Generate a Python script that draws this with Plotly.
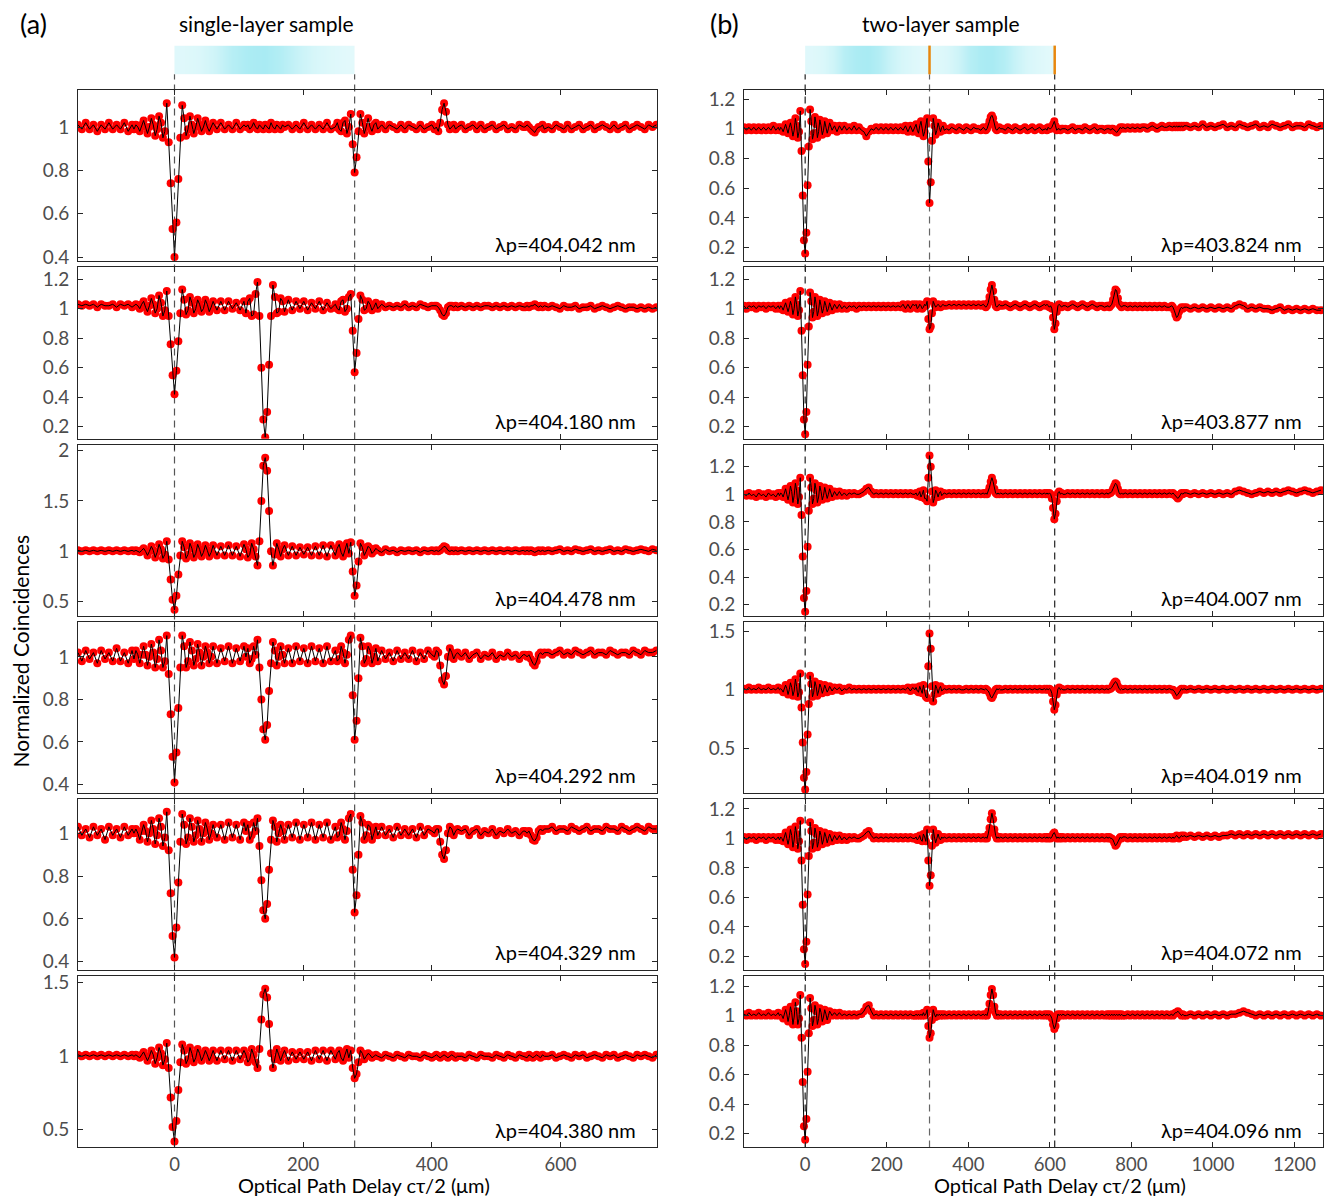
import sys
import numpy as np
import plotly.graph_objects as go

# ---------------- data ----------------
# sampling positions (optical path delay, um)
x_left = [-150,-144,-138,-132,-126,-120,-114,-108,-102,-96,-90,-84,-78,-72,-66,
          -63,-60,-57,-54,-51,-48,-45,-42,-39,-36,-33,-30,-27,-24,-21,-18,-15,-12,-9,-6,-3,0,3,6,9,12,15,18,21,24,27,30,33,36,39,42,45,48,51,54,57,60,
          66,72,78,84,90,96,102,108,
          111,114,117,120,123,126,129,132,135,138,141,144,147,150,153,156,159,162,165,168,171,
          177,183,189,195,201,207,213,219,225,231,237,243,
          250,253,256,259,262,265,268,271,274,277,280,283,286,289,292,295,298,301,304,307,310,313,
          316,322,328,334,340,346,352,358,364,370,376,382,388,394,400,
          404,407,410,413,416,419,422,425,428,431,434,437,440,
          446,452,458,464,470,476,482,488,494,500,506,512,518,524,530,536,542,
          545,548,551,554,557,560,563,566,569,572,575,
          581,587,593,599,605,611,617,623,629,635,641,647,653,659,665,671,677,683,689,695,701,707,713,719,725,731,737,743,749]

x_right = [-150,-144,-138,-132,-126,-120,-114,-108,-102,-96,-90,-84,-78,-72,-66,
           -63,-60,-57,-54,-51,-48,-45,-42,-39,-36,-33,-30,-27,-24,-21,-18,-15,-12,-9,-6,-3,0,3,6,9,12,15,18,21,24,27,30,33,36,39,42,45,48,51,54,57,60,
           66,72,78,84,90,96,102,108,114,120,126,132,138,144,150,156,162,168,174,180,186,192,198,204,210,216,222,228,234,240,246,252,258,264,
           269,272,275,278,281,284,287,290,293,296,299,302,305,308,311,314,317,320,323,326,329,332,335,338,341,
           347,353,359,365,371,377,383,389,395,401,407,413,419,425,431,437,
           440,443,446,449,452,455,458,461,464,467,470,473,476,479,
           485,491,497,503,509,515,521,527,533,539,545,551,557,563,569,575,581,587,
           590,593,596,599,602,605,608,611,614,617,620,623,626,629,632,
           638,644,650,656,662,668,674,680,686,692,698,704,710,716,722,728,734,740,
           743,746,749,752,755,758,761,764,767,770,773,776,779,
           785,791,797,803,809,815,821,827,833,839,845,851,857,863,869,875,881,887,893,899,
           902,905,908,911,914,917,920,923,926,929,
           935,945,955,965,975,985,995,1005,1015,1025,1035,1045,1055,1065,1075,1085,1095,1105,1115,1125,1135,1145,1155,1165,1175,1185,1195,1205,1215,1225,1235,1245,1255,1265]

# (a) single-layer sample, normalized coincidences
y_a1 = [1.01,0.99,1.02,0.99,1.01,0.98,1.01,0.99,1.02,0.99,1.01,0.99,1.02,0.98,1.01,
        0.99,1.01,1.00,0.98,1.01,1.03,1.00,0.97,1.00,1.04,1.01,0.96,0.99,1.05,1.02,0.95,0.98,1.11,0.93,0.74,0.53,0.40,0.56,0.76,0.95,1.10,1.04,0.96,0.99,1.05,1.01,0.97,1.00,1.04,1.01,0.98,1.00,1.03,1.00,0.98,1.00,1.02,
        0.99,1.02,0.99,1.01,0.99,1.02,0.99,1.01,
        1.00,1.01,0.99,1.00,1.02,1.00,0.99,1.01,1.00,0.99,1.01,1.00,0.99,1.02,1.00,0.99,1.01,1.00,0.99,1.01,1.00,
        1.01,0.99,1.01,0.99,1.02,0.99,1.01,0.99,1.01,0.99,1.02,0.99,
        1.00,1.02,0.99,0.98,1.02,1.03,0.97,1.00,1.06,0.92,0.79,0.86,0.98,1.06,1.02,0.97,1.00,1.04,1.00,0.98,1.01,1.02,
        0.99,1.01,0.99,1.01,1.00,0.99,1.01,0.99,1.01,1.00,0.99,1.01,0.99,1.00,1.01,
        0.99,1.00,0.98,1.02,1.08,1.11,1.07,1.01,0.99,1.00,1.01,0.99,1.00,
        1.01,0.99,1.00,1.01,0.99,1.01,0.99,1.00,1.01,0.99,1.00,1.01,0.99,1.00,0.99,1.01,1.00,
        1.00,1.01,1.00,0.99,0.98,0.975,0.99,1.00,1.00,1.01,0.99,
        1.00,0.99,1.01,1.00,0.99,1.01,0.99,1.00,1.01,0.99,1.00,1.01,0.99,1.00,1.01,1.00,0.99,1.01,0.99,1.00,1.01,0.99,1.00,1.01,1.00,0.99,1.01,1.00,1.01]

y_a2 = [1.03,1.02,1.03,1.02,1.03,1.01,1.03,1.02,1.02,1.03,1.01,1.03,1.02,1.03,1.01,
        1.02,1.03,1.02,1.00,1.03,1.05,1.01,0.98,1.02,1.07,1.03,0.97,1.00,1.09,1.04,0.95,0.99,1.12,0.95,0.76,0.55,0.42,0.58,0.78,0.97,1.13,1.06,0.96,0.99,1.08,1.04,0.97,1.00,1.06,1.03,0.98,1.00,1.06,1.03,0.98,1.01,1.05,
        0.99,1.05,0.99,1.05,1.00,1.04,0.99,1.05,
        0.97,1.05,1.07,0.95,0.96,1.10,1.18,0.95,0.60,0.25,0.13,0.30,0.62,0.95,1.16,1.08,0.97,0.98,1.07,1.05,0.98,
        1.06,0.99,1.05,1.00,1.05,0.99,1.04,1.00,1.05,0.99,1.04,1.00,
        1.03,1.00,0.99,1.05,1.06,0.98,1.00,1.08,1.10,0.85,0.57,0.70,0.93,1.09,1.06,0.99,1.00,1.05,1.03,0.99,1.01,1.04,
        1.00,1.03,1.01,1.02,1.01,1.02,1.01,1.03,1.01,1.02,1.01,1.03,1.02,1.01,1.02,
        1.02,1.02,1.01,0.99,0.96,0.95,0.97,1.01,1.02,1.02,1.01,1.02,1.01,
        1.02,1.01,1.02,1.01,1.02,1.01,1.02,1.02,1.01,1.02,1.01,1.02,1.01,1.02,1.01,1.02,1.01,
        1.01,1.02,1.01,1.02,1.02,1.03,1.02,1.01,1.02,1.01,1.02,
        1.01,1.02,1.01,1.00,1.02,1.01,1.01,1.02,1.00,1.01,1.01,1.02,1.00,1.01,1.02,1.01,1.00,1.01,1.02,1.01,1.00,1.01,1.01,1.00,1.01,1.00,1.01,1.00,1.01]

y_a3 = [1.01,1.00,1.01,1.00,1.01,1.00,1.01,1.00,1.01,1.00,1.01,1.00,1.01,1.00,1.01,
        1.00,1.01,1.00,0.99,1.01,1.03,1.00,0.96,1.00,1.05,1.01,0.94,0.99,1.07,1.02,0.93,0.97,1.10,0.92,0.72,0.52,0.42,0.56,0.77,0.96,1.10,1.04,0.93,0.97,1.08,1.03,0.94,0.98,1.07,1.02,0.95,0.99,1.06,1.01,0.95,0.99,1.06,
        0.96,1.05,0.96,1.06,0.96,1.05,0.95,1.07,
        1.02,0.94,0.97,1.08,1.02,0.95,0.86,1.10,1.50,1.85,1.93,1.80,1.40,1.00,0.86,0.97,1.08,1.02,0.95,1.02,1.06,
        0.96,1.05,0.96,1.04,0.97,1.04,0.96,1.05,0.96,1.06,0.95,1.06,
        0.96,1.03,1.07,0.99,0.95,1.03,1.08,0.98,1.09,0.80,0.56,0.66,0.90,1.08,1.04,0.96,1.00,1.05,1.03,0.98,1.00,1.03,
        1.01,0.99,1.02,1.00,1.01,0.99,1.01,1.00,1.01,1.00,1.01,0.99,1.01,1.00,1.01,
        1.00,1.01,1.00,1.01,1.03,1.05,1.04,1.01,1.00,1.01,1.00,1.01,1.00,
        1.01,1.00,1.01,1.00,1.01,1.00,1.01,1.00,1.01,1.00,1.01,1.00,1.01,1.00,1.01,1.00,1.01,
        1.00,1.01,1.00,1.01,1.00,0.99,1.00,1.01,1.00,1.01,1.00,
        1.01,1.00,1.01,1.02,1.00,1.01,1.00,1.02,1.01,1.00,1.01,1.02,1.00,1.01,1.00,1.01,1.02,1.00,1.01,1.00,1.02,1.01,1.00,1.01,1.02,1.01,1.00,1.02,1.01]

y_a4 = [1.02,0.98,1.03,0.99,1.02,0.97,1.03,0.99,1.02,0.98,1.04,0.98,1.02,0.97,1.03,
        0.99,1.03,1.01,0.97,1.01,1.05,1.01,0.96,1.00,1.06,1.02,0.95,0.99,1.08,1.03,0.95,0.98,1.10,0.92,0.73,0.53,0.41,0.55,0.76,0.95,1.10,1.05,0.95,0.98,1.07,1.03,0.96,0.99,1.06,1.02,0.96,1.00,1.05,1.02,0.97,1.00,1.05,
        0.97,1.04,0.98,1.05,0.97,1.04,0.98,1.05,
        1.00,1.04,0.97,0.99,1.05,1.01,1.08,0.95,0.80,0.66,0.61,0.68,0.84,0.97,1.07,1.03,0.96,1.00,1.05,1.01,0.97,
        1.04,0.97,1.05,0.98,1.04,0.97,1.05,0.98,1.04,0.97,1.05,0.98,
        1.03,0.98,0.99,1.05,1.02,0.97,1.01,1.08,1.10,0.82,0.61,0.70,0.90,1.09,1.05,0.97,0.99,1.05,1.03,0.97,1.00,1.04,
        0.98,1.03,0.99,1.02,0.98,1.03,0.99,1.02,0.99,1.03,0.98,1.02,0.99,1.03,1.01,
        1.00,1.03,1.02,0.96,0.89,0.87,0.91,1.00,1.04,1.02,0.99,1.01,1.02,
        1.00,1.02,0.99,1.01,1.02,0.99,1.01,1.00,1.02,0.99,1.01,1.00,1.02,1.00,1.01,0.99,1.01,
        1.01,1.00,1.01,0.99,0.97,0.96,0.98,1.01,1.02,1.01,1.02,
        1.02,1.01,1.02,1.03,1.01,1.02,1.01,1.03,1.02,1.01,1.02,1.03,1.01,1.02,1.02,1.01,1.03,1.02,1.01,1.02,1.02,1.01,1.03,1.02,1.01,1.03,1.02,1.02,1.03]

y_a5 = [1.03,0.99,1.02,0.98,1.03,0.99,1.02,0.97,1.03,0.99,1.02,0.98,1.03,0.99,1.02,
        1.00,1.02,1.00,0.97,1.01,1.04,1.01,0.96,1.00,1.06,1.02,0.95,0.99,1.07,1.03,0.94,0.98,1.10,0.92,0.72,0.52,0.42,0.56,0.77,0.96,1.09,1.04,0.95,0.98,1.07,1.03,0.96,0.99,1.06,1.02,0.96,1.00,1.05,1.02,0.97,1.00,1.04,
        0.98,1.04,0.97,1.05,0.98,1.04,0.97,1.05,
        1.01,1.04,0.97,0.99,1.05,1.01,1.07,0.94,0.78,0.64,0.60,0.67,0.83,0.97,1.06,1.03,0.96,1.00,1.04,1.01,0.97,
        1.04,0.98,1.05,0.97,1.04,0.98,1.05,0.97,1.04,0.98,1.05,0.97,
        1.03,0.98,0.99,1.05,1.02,0.97,1.01,1.07,1.09,0.83,0.63,0.71,0.90,1.08,1.05,0.97,0.99,1.04,1.03,0.97,1.00,1.03,
        0.99,1.03,0.99,1.02,0.98,1.03,0.99,1.02,0.99,1.02,0.98,1.03,0.99,1.02,1.01,
        1.00,1.02,1.02,0.96,0.90,0.88,0.92,1.00,1.03,1.02,0.99,1.01,1.02,
        1.01,1.02,0.99,1.01,1.02,0.99,1.01,1.00,1.02,0.99,1.01,1.00,1.02,1.00,1.01,0.99,1.01,
        1.01,1.00,1.01,0.99,0.97,0.965,0.98,1.01,1.02,1.01,1.02,
        1.02,1.03,1.01,1.02,1.02,1.01,1.03,1.02,1.01,1.02,1.03,1.01,1.02,1.02,1.01,1.03,1.02,1.02,1.01,1.03,1.02,1.01,1.02,1.03,1.02,1.01,1.03,1.02,1.02]

y_a6 = [1.01,1.00,1.01,1.00,1.01,1.00,1.01,1.00,1.01,1.00,1.01,1.00,1.01,1.00,1.01,
        1.00,1.01,1.00,0.99,1.01,1.03,1.00,0.97,1.00,1.04,1.01,0.95,0.99,1.06,1.02,0.94,0.98,1.09,0.92,0.72,0.52,0.42,0.56,0.77,0.96,1.08,1.04,0.95,0.98,1.06,1.02,0.96,0.99,1.05,1.02,0.97,1.00,1.04,1.01,0.97,1.00,1.04,
        0.97,1.04,0.98,1.04,0.97,1.04,0.98,1.04,
        1.01,0.96,0.98,1.05,1.01,0.96,0.92,1.05,1.25,1.42,1.46,1.40,1.22,1.02,0.92,0.98,1.05,1.01,0.97,1.01,1.04,
        0.97,1.03,0.98,1.03,0.98,1.03,0.97,1.04,0.98,1.04,0.97,1.04,
        0.98,1.02,1.04,0.99,0.97,1.02,1.05,0.99,1.04,0.92,0.85,0.88,0.96,1.04,1.02,0.98,1.00,1.02,1.01,0.99,1.00,1.01,
        1.00,0.99,1.01,1.00,0.99,1.01,1.00,0.99,1.01,1.00,1.00,0.99,1.01,1.00,0.99,
        1.00,1.01,1.00,0.99,1.00,1.01,1.00,0.99,1.00,1.01,1.00,0.99,1.00,
        1.00,0.99,1.01,1.00,0.99,1.01,1.00,1.00,0.99,1.01,1.00,0.99,1.01,1.00,0.99,1.01,1.00,
        1.00,0.99,1.01,1.00,0.99,1.00,1.01,1.00,0.99,1.01,1.00,
        1.00,1.01,0.99,1.00,1.01,1.00,0.99,1.01,1.00,1.01,0.99,1.00,1.01,1.00,0.99,1.01,1.00,1.01,0.99,1.00,1.01,1.00,0.99,1.01,1.00,1.01,1.00,0.99,1.01]

# (b) two-layer sample, normalized coincidences
y_b1 = [1.01,0.99,1.01,0.99,1.01,0.99,1.01,0.99,1.01,0.99,1.01,0.99,1.02,0.99,1.01,
        0.99,1.01,1.00,0.98,1.01,1.03,1.00,0.97,1.01,1.04,1.00,0.95,0.99,1.07,1.02,0.94,0.98,1.12,0.85,0.55,0.25,0.16,0.30,0.62,0.88,1.13,1.05,0.93,0.97,1.08,1.03,0.94,0.98,1.06,1.02,0.96,0.99,1.05,1.01,0.97,1.00,1.04,
        0.99,1.02,0.98,1.02,0.99,1.02,0.99,1.01,0.99,1.02,0.99,1.01,0.99,0.98,0.95,0.98,1.00,0.99,1.01,0.99,1.01,0.99,1.01,0.99,1.01,0.99,1.01,0.99,1.01,0.99,1.02,0.98,1.02,0.98,
        1.01,1.03,0.99,0.97,1.02,1.05,1.00,0.95,0.98,1.03,1.07,0.78,0.50,0.64,0.92,1.07,1.02,0.96,0.99,1.04,1.01,0.98,1.01,1.02,0.99,
        1.00,0.99,1.01,1.00,0.99,1.01,1.00,0.99,1.01,1.00,0.99,1.01,1.00,1.00,0.99,1.01,
        1.00,0.99,1.00,1.02,1.05,1.08,1.09,1.07,1.03,1.00,0.99,1.00,1.01,1.00,
        1.00,0.99,1.01,1.00,0.99,1.01,1.00,0.99,1.00,1.01,0.99,1.00,1.01,0.99,1.00,1.01,0.99,1.00,
        1.00,0.99,1.01,1.00,1.00,1.01,1.03,1.05,1.02,0.99,1.00,1.00,0.99,1.00,1.00,
        1.00,0.99,1.00,1.01,0.99,1.00,1.00,0.99,1.01,1.00,0.99,1.00,1.01,0.99,1.00,1.00,0.99,1.00,
        1.00,1.00,0.99,1.00,1.00,0.99,0.98,0.975,0.985,1.00,1.01,1.00,1.01,
        1.00,1.01,1.00,1.01,1.00,1.01,1.00,1.01,1.01,1.00,1.01,1.02,1.01,1.00,1.01,1.02,1.01,1.01,1.02,1.01,
        1.01,1.02,1.01,1.02,1.01,1.02,1.01,1.02,1.01,1.02,
        1.02,1.01,1.02,1.01,1.03,1.01,1.02,1.01,1.02,1.03,1.01,1.02,1.01,1.03,1.02,1.01,1.02,1.03,1.01,1.02,1.01,1.03,1.02,1.01,1.02,1.03,1.01,1.02,1.02,1.01,1.03,1.02,1.01,1.02]

y_b2 = [1.02,1.00,1.02,1.01,1.02,1.00,1.02,1.01,1.02,1.00,1.02,1.01,1.02,1.00,1.02,
        1.00,1.02,1.01,0.99,1.02,1.04,1.01,0.98,1.01,1.05,1.02,0.96,1.00,1.08,1.03,0.95,0.99,1.12,0.85,0.55,0.25,0.15,0.30,0.62,0.88,1.11,1.05,0.94,0.98,1.08,1.03,0.95,0.99,1.06,1.02,0.97,1.00,1.05,1.02,0.98,1.00,1.04,
        0.99,1.03,1.00,1.03,1.00,1.02,1.00,1.02,1.01,1.02,1.00,1.02,1.01,1.02,1.01,1.02,1.01,1.02,1.01,1.02,1.01,1.02,1.01,1.02,1.01,1.02,1.01,1.02,1.01,1.03,1.00,1.03,1.00,1.03,
        1.02,1.03,1.00,1.01,1.03,1.02,1.00,1.01,1.03,1.02,1.05,0.93,0.86,0.88,0.97,1.05,1.03,1.01,1.02,1.03,1.02,1.01,1.02,1.03,1.02,
        1.02,1.03,1.02,1.03,1.02,1.03,1.02,1.03,1.02,1.03,1.02,1.03,1.02,1.03,1.02,1.03,
        1.02,1.01,1.02,1.04,1.08,1.13,1.16,1.12,1.06,1.02,1.01,1.02,1.03,1.02,
        1.02,1.03,1.02,1.01,1.02,1.03,1.02,1.01,1.02,1.03,1.02,1.01,1.02,1.03,1.02,1.01,1.02,1.03,
        1.02,1.03,1.02,1.01,1.02,1.00,0.94,0.86,0.90,0.98,1.02,1.03,1.02,1.01,1.02,
        1.02,1.01,1.02,1.03,1.02,1.01,1.02,1.03,1.02,1.01,1.02,1.03,1.02,1.01,1.02,1.02,1.01,1.02,
        1.02,1.01,1.02,1.03,1.06,1.10,1.13,1.12,1.07,1.03,1.02,1.01,1.02,
        1.02,1.01,1.02,1.01,1.02,1.01,1.02,1.01,1.02,1.01,1.02,1.01,1.02,1.01,1.02,1.01,1.02,1.01,1.01,1.02,
        1.01,0.99,0.96,0.94,0.95,0.98,1.00,1.01,1.00,1.01,
        1.01,1.00,1.01,1.00,1.01,1.00,1.01,1.00,1.01,1.00,1.01,1.00,1.02,1.03,1.02,1.00,1.01,1.00,1.01,1.00,1.00,0.99,1.00,1.01,0.99,1.00,0.99,1.00,0.99,1.00,0.99,1.00,0.99,0.99]

y_b3 = [1.00,0.99,1.01,0.99,1.00,0.98,1.01,0.99,1.00,0.98,1.01,0.99,1.00,0.98,1.01,
        0.99,1.01,1.00,0.98,1.01,1.04,1.00,0.96,1.00,1.06,1.02,0.94,0.99,1.08,1.03,0.93,0.98,1.12,0.85,0.55,0.25,0.15,0.30,0.62,0.88,1.12,1.05,0.93,0.97,1.08,1.03,0.94,0.98,1.06,1.02,0.96,0.99,1.05,1.01,0.97,1.00,1.04,
        0.98,1.02,0.99,1.02,0.99,1.01,0.99,1.01,1.00,1.01,1.00,1.00,1.01,1.02,1.04,1.05,1.02,1.00,1.01,1.00,1.01,1.00,1.01,1.00,1.01,1.00,1.01,1.00,1.01,1.00,1.01,1.00,1.01,1.00,
        1.00,1.01,0.99,1.00,1.02,0.98,1.00,1.03,0.97,0.97,0.95,1.12,1.28,1.20,1.02,0.94,0.97,1.03,1.01,0.98,1.01,1.02,0.99,1.00,1.01,
        1.00,1.01,1.00,1.01,1.00,1.01,1.00,1.01,1.00,1.01,1.00,1.01,1.00,1.01,1.00,1.01,
        1.00,1.01,1.00,1.02,1.05,1.09,1.12,1.09,1.04,1.01,1.00,1.01,1.00,1.01,
        1.00,1.01,1.00,1.01,1.00,1.01,1.00,1.01,1.00,1.01,1.00,1.01,1.00,1.01,1.00,1.01,1.00,1.01,
        1.00,1.01,1.00,1.01,1.00,0.97,0.90,0.82,0.86,0.95,1.01,1.02,1.00,1.01,1.00,
        1.00,1.01,1.00,1.01,1.00,1.01,1.00,1.01,1.00,1.01,1.00,1.01,1.00,1.01,1.00,1.01,1.00,1.01,
        1.00,1.01,1.01,1.02,1.04,1.06,1.08,1.07,1.04,1.01,1.00,1.01,1.00,
        1.01,1.00,1.01,1.00,1.01,1.00,1.01,1.00,1.01,1.00,1.01,1.00,1.01,1.00,1.01,1.00,1.01,1.00,1.01,1.00,
        1.01,1.00,0.99,0.98,0.97,0.98,1.00,1.01,1.00,1.01,
        1.01,1.00,1.01,1.00,1.01,1.00,1.01,1.00,1.01,1.00,1.01,1.00,1.02,1.03,1.02,1.01,1.00,1.01,1.02,1.01,1.02,1.01,1.02,1.01,1.02,1.03,1.02,1.01,1.02,1.03,1.02,1.01,1.02,1.03]

y_b4 = [1.01,1.00,1.02,1.00,1.01,1.00,1.02,1.00,1.01,1.00,1.02,1.00,1.01,1.00,1.02,
        1.00,1.01,1.00,0.98,1.01,1.04,1.01,0.96,1.00,1.06,1.02,0.95,0.99,1.09,1.03,0.94,0.98,1.14,0.85,0.55,0.25,0.15,0.30,0.62,0.88,1.12,1.05,0.94,0.98,1.07,1.03,0.95,0.99,1.05,1.02,0.97,1.00,1.04,1.01,0.98,1.00,1.03,
        0.99,1.02,1.00,1.02,0.99,1.01,1.00,1.02,1.00,1.01,1.00,1.01,1.00,1.01,1.00,1.01,1.00,1.01,1.00,1.01,1.00,1.01,1.00,1.01,1.00,1.01,1.00,1.01,1.00,1.01,1.00,1.02,0.99,1.02,
        1.00,1.02,0.99,0.98,1.03,1.00,0.97,1.04,0.97,0.94,0.93,1.20,1.48,1.35,1.03,0.90,0.96,1.04,1.01,0.97,1.01,1.03,0.99,1.00,1.01,
        1.00,1.01,1.00,1.01,1.00,1.01,1.00,1.00,1.01,1.00,1.01,1.00,1.01,1.00,1.01,1.00,
        1.00,1.01,1.00,0.99,0.97,0.94,0.93,0.95,0.98,1.00,1.01,1.00,1.01,1.00,
        1.00,1.01,1.00,1.01,1.00,1.01,1.00,1.01,1.00,1.01,1.00,1.01,1.00,1.01,1.00,1.01,1.00,1.01,
        1.00,1.01,1.00,1.01,1.00,0.97,0.90,0.83,0.87,0.96,1.01,1.02,1.00,1.01,1.00,
        1.00,1.01,1.00,1.01,1.00,1.01,1.00,1.01,1.00,1.01,1.00,1.01,1.00,1.01,1.00,1.01,1.00,1.01,
        1.00,1.01,1.01,1.02,1.04,1.06,1.07,1.06,1.03,1.01,1.00,1.01,1.00,
        1.01,1.00,1.01,1.00,1.01,1.00,1.01,1.00,1.01,1.00,1.01,1.00,1.01,1.00,1.01,1.00,1.01,1.00,1.01,1.00,
        1.00,0.99,0.97,0.95,0.96,0.98,1.00,1.01,1.00,1.01,
        1.00,1.01,1.00,1.01,1.00,1.01,1.00,1.01,1.00,1.01,1.00,1.01,1.00,1.01,1.00,1.01,1.00,1.01,1.00,1.01,1.00,1.01,1.00,1.01,1.00,1.01,1.00,1.01,1.00,1.01,1.00,1.01,1.00,1.01]

y_b5 = [1.01,0.99,1.01,1.00,1.01,0.99,1.01,1.00,1.01,0.99,1.01,1.00,1.01,0.99,1.01,
        0.99,1.01,1.00,0.98,1.01,1.04,1.00,0.96,1.00,1.06,1.02,0.94,0.99,1.08,1.03,0.93,0.98,1.12,0.85,0.55,0.25,0.15,0.30,0.62,0.88,1.11,1.05,0.93,0.97,1.07,1.03,0.94,0.98,1.05,1.02,0.96,0.99,1.04,1.01,0.97,1.00,1.03,
        0.98,1.02,0.99,1.02,0.99,1.01,0.99,1.01,1.00,1.01,1.00,1.00,1.01,1.02,1.04,1.05,1.02,1.00,1.01,1.00,1.01,1.00,1.01,1.00,1.01,1.00,1.01,1.00,1.01,1.00,1.01,1.00,1.01,1.00,
        1.00,1.01,0.99,1.00,1.02,0.99,0.98,1.03,1.01,0.98,1.06,0.85,0.68,0.75,0.95,1.06,1.01,0.97,1.00,1.03,1.00,0.99,1.01,1.00,1.01,
        1.00,1.01,1.00,1.01,1.00,1.01,1.00,1.01,1.00,1.01,1.00,1.01,1.00,1.01,1.00,1.01,
        1.00,1.01,1.00,1.03,1.07,1.13,1.17,1.13,1.06,1.02,1.00,1.01,1.00,1.01,
        1.00,1.01,1.00,1.01,1.00,1.01,1.00,1.01,1.00,1.01,1.00,1.01,1.00,1.01,1.00,1.01,1.00,1.01,
        1.00,1.01,1.00,1.01,1.00,1.01,1.03,1.04,1.02,1.00,1.01,1.00,1.01,1.00,1.01,
        1.00,1.01,1.00,1.01,1.00,1.01,1.00,1.01,1.00,1.01,1.00,1.01,1.00,1.01,1.00,1.01,1.00,1.01,
        1.00,1.01,1.00,1.00,0.99,0.97,0.95,0.96,0.98,1.00,1.01,1.00,1.01,
        1.01,1.00,1.01,1.00,1.01,1.00,1.01,1.00,1.01,1.00,1.01,1.00,1.01,1.00,1.01,1.00,1.01,1.00,1.01,1.00,
        1.01,1.00,1.01,1.02,1.01,1.00,1.01,1.02,1.01,1.02,
        1.01,1.02,1.01,1.02,1.01,1.02,1.01,1.02,1.01,1.02,1.02,1.03,1.02,1.03,1.02,1.03,1.02,1.03,1.02,1.03,1.02,1.03,1.02,1.03,1.02,1.03,1.02,1.03,1.02,1.03,1.02,1.03,1.02,1.03]

y_b6 = [1.01,1.00,1.02,1.00,1.01,1.00,1.02,1.00,1.01,1.00,1.02,1.00,1.01,1.00,1.02,
        1.00,1.01,1.00,0.98,1.01,1.04,1.01,0.96,1.00,1.06,1.02,0.94,0.99,1.09,1.03,0.94,0.98,1.14,0.85,0.55,0.25,0.16,0.30,0.62,0.88,1.12,1.05,0.93,0.97,1.07,1.03,0.94,0.98,1.05,1.02,0.96,0.99,1.04,1.01,0.97,1.00,1.03,
        1.00,1.02,1.00,1.02,1.00,1.01,1.00,1.01,1.00,1.01,1.00,1.01,1.01,1.03,1.06,1.07,1.03,1.00,1.01,1.00,1.01,1.00,1.01,1.00,1.01,1.00,1.01,1.00,1.01,1.00,1.01,1.00,1.01,1.00,
        1.00,1.01,1.00,1.01,1.00,1.01,1.00,1.02,1.00,1.01,1.04,0.93,0.85,0.88,0.97,1.04,1.01,0.99,1.01,1.00,1.01,1.00,1.01,1.00,1.01,
        1.00,1.01,1.00,1.01,1.00,1.01,1.00,1.01,1.00,1.01,1.00,1.01,1.00,1.01,1.00,1.01,
        1.00,1.01,1.00,1.03,1.08,1.14,1.18,1.14,1.06,1.02,1.00,1.01,1.00,1.01,
        1.00,1.01,1.00,1.01,1.00,1.01,1.00,1.01,1.00,1.01,1.00,1.01,1.00,1.01,1.00,1.01,1.00,1.01,
        1.00,1.01,1.00,1.01,1.00,0.98,0.94,0.91,0.93,0.98,1.01,1.00,1.01,1.00,1.01,
        1.00,1.01,1.00,1.01,1.00,1.01,1.00,1.01,1.00,1.01,1.00,1.01,1.00,1.01,1.00,1.01,1.00,1.01,
        1.00,1.01,1.00,1.01,1.00,1.01,1.00,1.01,1.00,1.01,1.00,1.01,1.00,
        1.00,1.01,1.00,1.01,1.00,1.01,1.00,1.01,1.00,1.01,1.00,1.01,1.00,1.01,1.00,1.01,1.00,1.01,1.00,1.01,
        1.00,1.01,1.02,1.02,1.03,1.02,1.01,1.00,1.01,1.00,
        1.00,1.01,1.00,1.01,1.00,1.01,1.00,1.01,1.00,1.01,1.00,1.01,1.01,1.02,1.03,1.02,1.01,1.00,1.01,1.00,1.01,1.00,1.01,1.00,1.01,1.00,1.01,1.00,1.01,1.00,1.01,1.00,1.01,1.00]

labels_left = ["λp=404.042 nm", "λp=404.180 nm", "λp=404.478 nm",
               "λp=404.292 nm", "λp=404.329 nm", "λp=404.380 nm"]
labels_right = ["λp=403.824 nm", "λp=403.877 nm", "λp=404.007 nm",
                "λp=404.019 nm", "λp=404.072 nm", "λp=404.096 nm"]

yticks_left = [[0.4, 0.6, 0.8, 1], [0.2, 0.4, 0.6, 0.8, 1, 1.2], [0.5, 1, 1.5, 2],
               [0.4, 0.6, 0.8, 1], [0.4, 0.6, 0.8, 1], [0.5, 1, 1.5]]
yticks_right = [[0.2, 0.4, 0.6, 0.8, 1, 1.2], [0.2, 0.4, 0.6, 0.8, 1, 1.2],
                [0.2, 0.4, 0.6, 0.8, 1, 1.2], [0.5, 1, 1.5],
                [0.2, 0.4, 0.6, 0.8, 1, 1.2], [0.2, 0.4, 0.6, 0.8, 1, 1.2]]
yrange_left = [[0.38, 1.17], [0.12, 1.28], [0.36, 2.06], [0.36, 1.165], [0.36, 1.16], [0.38, 1.545]]
yrange_right = [[0.107, 1.26], [0.12, 1.28], [0.12, 1.36], [0.12, 1.58], [0.107, 1.267], [0.107, 1.267]]

xticks_left = [0, 200, 400, 600]
xticks_right = [0, 200, 400, 600, 800, 1000, 1200]
xrange_left = [-150, 750]
xrange_right = [-150, 1270]

interfaces_left = [0, 280]          # single layer boundaries (um)
interfaces_right = [0, 305, 612]    # two-layer boundaries (um)
bar_shade = [0.05, 0.12, 0.35, 0.75, 0.95, 1.0, 0.8, 0.45, 0.2, 0.08, 0.0]

# ---------------- figure ----------------
W, H = 1336, 1199
FONT = "Lato"
AX = "#262626"
TICKC = "#4d4d4d"

for nm, arr, ref in ([("a%d" % (i + 1), a, x_left) for i, a in enumerate([y_a1, y_a2, y_a3, y_a4, y_a5, y_a6])] +
                     [("b%d" % (i + 1), a, x_right) for i, a in enumerate([y_b1, y_b2, y_b3, y_b4, y_b5, y_b6])]):
    if len(arr) != len(ref):
        print("length mismatch", nm, len(arr), len(ref), file=sys.stderr)


def fx(p):
    return p / W


def fy(p):
    return 1 - p / H


col_px = [(78, 657), (744, 1323)]
row_tops = [85, 264, 443, 622, 801, 980]
row_h = 173

fig = go.Figure()
layout = {}
annotations = []
shapes = []

cols = [
    (x_left, [y_a1, y_a2, y_a3, y_a4, y_a5, y_a6], labels_left, yticks_left, yrange_left, xticks_left, xrange_left),
    (x_right, [y_b1, y_b2, y_b3, y_b4, y_b5, y_b6], labels_right, yticks_right, yrange_right, xticks_right, xrange_right),
]

k = 0
for c, (xs, ys, labs, ytk, yrg, xtk, xrg) in enumerate(cols):
    for r in range(6):
        k += 1
        xa = "x" if k == 1 else "x%d" % k
        ya = "y" if k == 1 else "y%d" % k
        fig.add_trace(go.Scatter(x=xs, y=ys[r], mode="markers",
                                 marker=dict(color="#ff0000", size=8, line=dict(width=0)),
                                 xaxis=xa, yaxis=ya, showlegend=False, hoverinfo="skip"))
        fig.add_trace(go.Scatter(x=xs, y=ys[r], mode="lines",
                                 line=dict(color="black", width=1.0),
                                 xaxis=xa, yaxis=ya, showlegend=False, hoverinfo="skip"))
        top = row_tops[r]
        bot = top + row_h
        layout["xaxis" if k == 1 else "xaxis%d" % k] = dict(
            domain=[fx(col_px[c][0]), fx(col_px[c][1])], range=xrg, anchor=ya,
            tickvals=xtk, showticklabels=(r == 5), ticks="inside", ticklen=5,
            tickcolor=AX, showline=True, linecolor=AX, linewidth=1, mirror="ticks",
            showgrid=False, zeroline=False, ticklabelstandoff=0,
            tickfont=dict(family=FONT, size=18.5, color=TICKC))
        layout["yaxis" if k == 1 else "yaxis%d" % k] = dict(
            domain=[fy(bot), fy(top)], range=yrg[r], anchor=xa,
            tickvals=ytk[r], ticks="inside", ticklen=5, tickcolor=AX,
            showline=True, linecolor=AX, linewidth=1, mirror="ticks",
            showgrid=False, zeroline=False, ticklabelstandoff=4,
            tickfont=dict(family=FONT, size=19, color=TICKC))
        annotations.append(dict(xref="paper", yref="paper", x=fx(col_px[c][1] - 19), y=fy(bot - 18),
                                xanchor="right", yanchor="middle", showarrow=False, text=labs[r],
                                font=dict(family=FONT, size=20, color="black")))

# sample bars (gradient) on their own axes
bar_top, bar_bot = 40, 69
for j, (c, edges_list) in enumerate([(0, interfaces_left), (1, interfaces_right)]):
    kk = 13 + j
    for a, b in zip(edges_list[:-1], edges_list[1:]):
        seg = list(np.linspace(a, b, len(bar_shade) + 1))
        fig.add_trace(go.Heatmap(x=seg, y=[0, 1], z=[bar_shade], zmin=0, zmax=1,
                                 colorscale=[[0, "#e2f9fb"], [1, "#a9ebf3"]], showscale=False,
                                 zsmooth="best", xaxis="x%d" % kk, yaxis="y%d" % kk, hoverinfo="skip"))
    rng = xrange_left if c == 0 else xrange_right
    layout["xaxis%d" % kk] = dict(domain=[fx(col_px[c][0]), fx(col_px[c][1])], range=rng,
                                  anchor="y%d" % kk, visible=False)
    layout["yaxis%d" % kk] = dict(domain=[fy(bar_bot), fy(bar_top)], range=[0, 1],
                                  anchor="x%d" % kk, visible=False)

# dashed interface lines
for xv in interfaces_left:
    shapes.append(dict(type="line", xref="x", yref="paper", x0=xv, x1=xv,
                       y0=fy(row_tops[5] + row_h), y1=fy(bar_bot), layer="below",
                       line=dict(color="#555555", width=1.2, dash="7px,5px")))
for xv, colr in zip(interfaces_right, ["#222222", "#666666", "#222222"]):
    shapes.append(dict(type="line", xref="x7", yref="paper", x0=xv, x1=xv,
                       y0=fy(row_tops[5] + row_h), y1=fy(bar_bot), layer="below",
                       line=dict(color=colr, width=1.2, dash="7px,5px")))
# orange interface markers on the two-layer bar
for xv in interfaces_right[1:]:
    shapes.append(dict(type="line", xref="x14", yref="paper", x0=xv, x1=xv,
                       y0=fy(bar_bot), y1=fy(bar_top), layer="above",
                       line=dict(color="#e8870e", width=2.5)))

# text labels
annotations += [
    dict(xref="paper", yref="paper", x=fx(33), y=fy(18), text="(a)", showarrow=False,
         xanchor="center", yanchor="middle", font=dict(family=FONT, size=27, color="black")),
    dict(xref="paper", yref="paper", x=fx(724), y=fy(18), text="(b)", showarrow=False,
         xanchor="center", yanchor="middle", font=dict(family=FONT, size=27, color="black")),
    dict(xref="paper", yref="paper", x=fx(266), y=fy(18), text="single-layer sample", showarrow=False,
         xanchor="center", yanchor="middle", font=dict(family=FONT, size=21, color="black")),
    dict(xref="paper", yref="paper", x=fx(941), y=fy(18), text="two-layer sample", showarrow=False,
         xanchor="center", yanchor="middle", font=dict(family=FONT, size=21, color="black")),
    dict(xref="paper", yref="paper", x=fx(20), y=fy(652), text="Normalized Coincidences", showarrow=False,
         xanchor="center", yanchor="middle", textangle=-90, font=dict(family=FONT, size=21, color="black")),
    dict(xref="paper", yref="paper", x=fx(364), y=fy(1191), text="Optical Path Delay cτ/2 (μm)",
         xanchor="center", yanchor="middle", showarrow=False, font=dict(family=FONT, size=20, color="black")),
    dict(xref="paper", yref="paper", x=fx(1060), y=fy(1191), text="Optical Path Delay cτ/2 (μm)",
         xanchor="center", yanchor="middle", showarrow=False, font=dict(family=FONT, size=20, color="black")),
]

fig.update_layout(**layout)
fig.update_layout(width=W, height=H, margin=dict(l=0, r=0, t=0, b=0, pad=0),
                  paper_bgcolor="white", plot_bgcolor="rgba(0,0,0,0)",
                  annotations=annotations, shapes=shapes, showlegend=False,
                  font=dict(family=FONT))

fig.write_html("out.html", config={"displayModeBar": False},
               post_script="document.body.style.margin='0';document.body.style.padding='0';"
                           "document.body.style.overflow='hidden';")
